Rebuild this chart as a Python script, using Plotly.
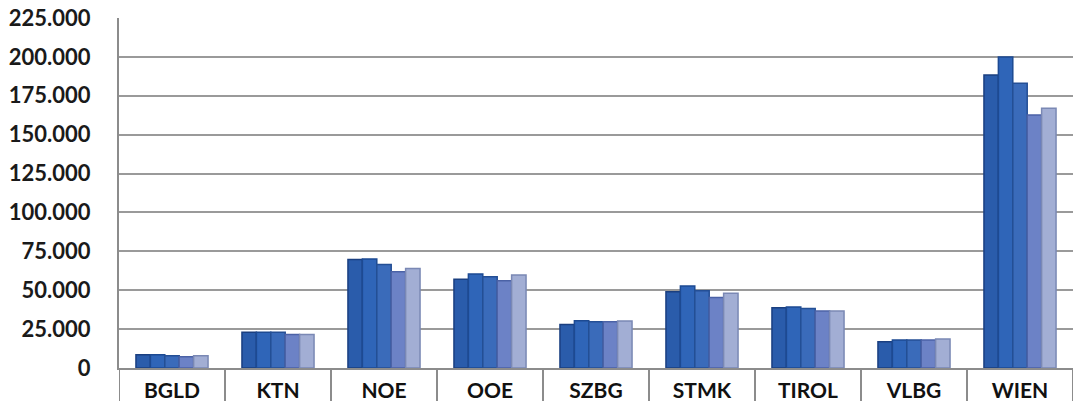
import plotly.graph_objects as go

categories = ["BGLD", "KTN", "NOE", "OOE", "SZBG", "STMK", "TIROL", "VLBG", "WIEN"]

series_1 = [8500, 23000, 69800, 57000, 28000, 49000, 38800, 16900, 188300]
series_2 = [8500, 23000, 70000, 60400, 30400, 52700, 39200, 18000, 200000]
series_3 = [7800, 23000, 66600, 58700, 29800, 49700, 38300, 18000, 183000]
series_4 = [7200, 21500, 61900, 56100, 29800, 45400, 36600, 18000, 162600]
series_5 = [7800, 21600, 64000, 59800, 30200, 48000, 36600, 18600, 167000]

series = [series_1, series_2, series_3, series_4, series_5]
fill_colors = ["#2A5CAB", "#2F65B8", "#3A6BBA", "#6C82C6", "#A2AED4"]
edge_colors = ["#1A3F80", "#1D4A92", "#244F95", "#4B62A6", "#7A88B4"]

fig = go.Figure()
for vals, fc, ec in zip(series, fill_colors, edge_colors):
    fig.add_trace(go.Bar(
        x=categories, y=vals,
        marker=dict(color=fc, line=dict(color=ec, width=1.5)),
        showlegend=False,
    ))

shapes = []
for i in range(len(categories) + 1):
    shapes.append(dict(
        type="line", xref="x", yref="paper",
        x0=i - 0.5, x1=i - 0.5, y0=0, y1=-0.12,
        line=dict(color="#8C8C8C", width=2),
    ))

fig.update_layout(
    width=1073, height=401,
    margin=dict(l=119, r=0, t=18, b=33),
    paper_bgcolor="white", plot_bgcolor="white",
    barmode="group", bargap=0.32, bargroupgap=0.0,
    separators=",.",
    shapes=shapes,
    font=dict(family="Lato", color="#1a1a1a"),
)
fig.update_xaxes(
    type="category",
    automargin=False,
    range=[-0.5, len(categories) - 0.5],
    showgrid=False,
    showline=True, linecolor="#8C8C8C", linewidth=2,
    ticks="outside", ticklen=3, tickcolor="rgba(0,0,0,0)",
    tickfont=dict(family="Lato", size=21, color="#111111", weight="bold"),
)
fig.update_yaxes(
    automargin=False,
    range=[0, 225000],
    tickvals=[0, 25000, 50000, 75000, 100000, 125000, 150000, 175000, 200000, 225000],
    tickformat=",d",
    showgrid=True, gridcolor="#9A9A9A", gridwidth=1.5,
    showline=True, linecolor="#8C8C8C", linewidth=2,
    zeroline=False,
    ticks="outside", ticklen=22, tickcolor="rgba(0,0,0,0)",
    tickfont=dict(family="Lato", size=22, color="#1a1a1a", weight="bold"),
)

fig.write_html(
    "out.html",
    config={"displayModeBar": False},
    post_script="document.body.style.margin='0';document.body.style.overflow='hidden';",
)
